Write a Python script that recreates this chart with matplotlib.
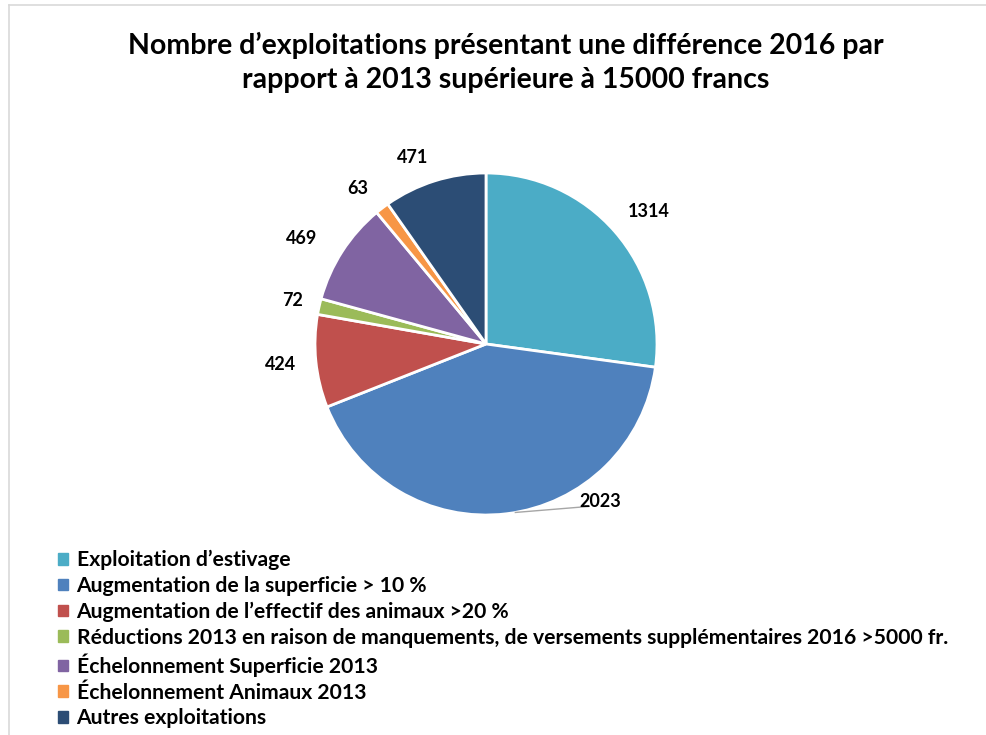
import matplotlib.pyplot as plt
import numpy as np
from matplotlib.lines import Line2D

plt.rcParams['font.family'] = ['Lato', 'DejaVu Sans']

categories = [
    "Exploitation d\u2019estivage",
    "Augmentation de la superficie > 10 %",
    "Augmentation de l\u2019effectif des animaux >20 %",
    "R\u00e9ductions 2013 en raison de manquements, de versements suppl\u00e9mentaires 2016 >5000 fr.",
    "\u00c9chelonnement Superficie 2013",
    "\u00c9chelonnement Animaux 2013",
    "Autres exploitations",
]
values = [1314, 2023, 424, 72, 469, 63, 471]
colors = ['#4BACC6', '#4F81BD', '#C0504D', '#9BBB59', '#8064A2', '#F79646', '#2C4D75']

title = "Nombre d\u2019exploitations pr\u00e9sentant une diff\u00e9rence 2016 par\nrapport \u00e0 2013 sup\u00e9rieure \u00e0 15000 francs"

W, H = 986, 735
fig = plt.figure(figsize=(W / 100, H / 100), dpi=100)

# chart frame (light grey border)
fig.add_artist(Line2D([9 / W, 1], [1 - 5 / H, 1 - 5 / H], color='#d9d9d9', lw=1.2))
fig.add_artist(Line2D([9 / W, 9 / W], [0, 1 - 5 / H], color='#d9d9d9', lw=1.2))
fig.text(218 / W, 1 + 7 / H, "2013", ha='center', va='center', fontsize=12, fontweight='bold')

fig.text(506 / W, 1 - 62.5 / H, title, ha='center', va='center', fontsize=20.5,
         fontweight='bold', linespacing=1.37)

# pie axes: centre (486, 344) px, radius 171 px
cx, cy, r = 486, 344, 171
half = 1.17 * r
ax = fig.add_axes([(cx - half) / W, 1 - (cy + half) / H, 2 * half / W, 2 * half / H])
wedges, _ = ax.pie(values, colors=colors, startangle=90, counterclock=False,
                   wedgeprops=dict(edgecolor='white', linewidth=2))
ax.set_xlim(-1.17, 1.17)
ax.set_ylim(-1.17, 1.17)
ax.set_aspect('equal')
ax.axis('off')

# label placement: (distance, angle shift in degrees)
label_pos = [(1.23, -2), (1.14, 29), (1.21, 0), (1.16, 0), (1.24, 3), (1.18, 2), (1.17, 4)]
for w, v, (d, shift) in zip(wedges, values, label_pos):
    theta = np.deg2rad((w.theta1 + w.theta2) / 2 + shift)
    x, y = d * np.cos(theta), d * np.sin(theta)
    ax.text(x, y, str(v), ha='center', va='center', fontsize=13, fontweight='bold')

# leader line for the big slice
t = np.deg2rad((wedges[1].theta1 + wedges[1].theta2) / 2 + 3)
ax.plot([np.cos(t) * 1.0, 0.60, 0.60], [np.sin(t) * 1.0, -0.95, -0.95], color='#a6a6a6', lw=1)

handles = [plt.Rectangle((0, 0), 1, 1, color=c) for c in colors]
fig.legend(handles, categories, loc='upper left', bbox_to_anchor=(58 / W, 1 - 550 / H),
           frameon=False, prop=dict(weight='bold', size=15.2),
           handlelength=0.48, handleheight=0.48, handletextpad=0.4, labelspacing=0.27,
           borderpad=0, borderaxespad=0)

fig.savefig('out.png', dpi=100)
